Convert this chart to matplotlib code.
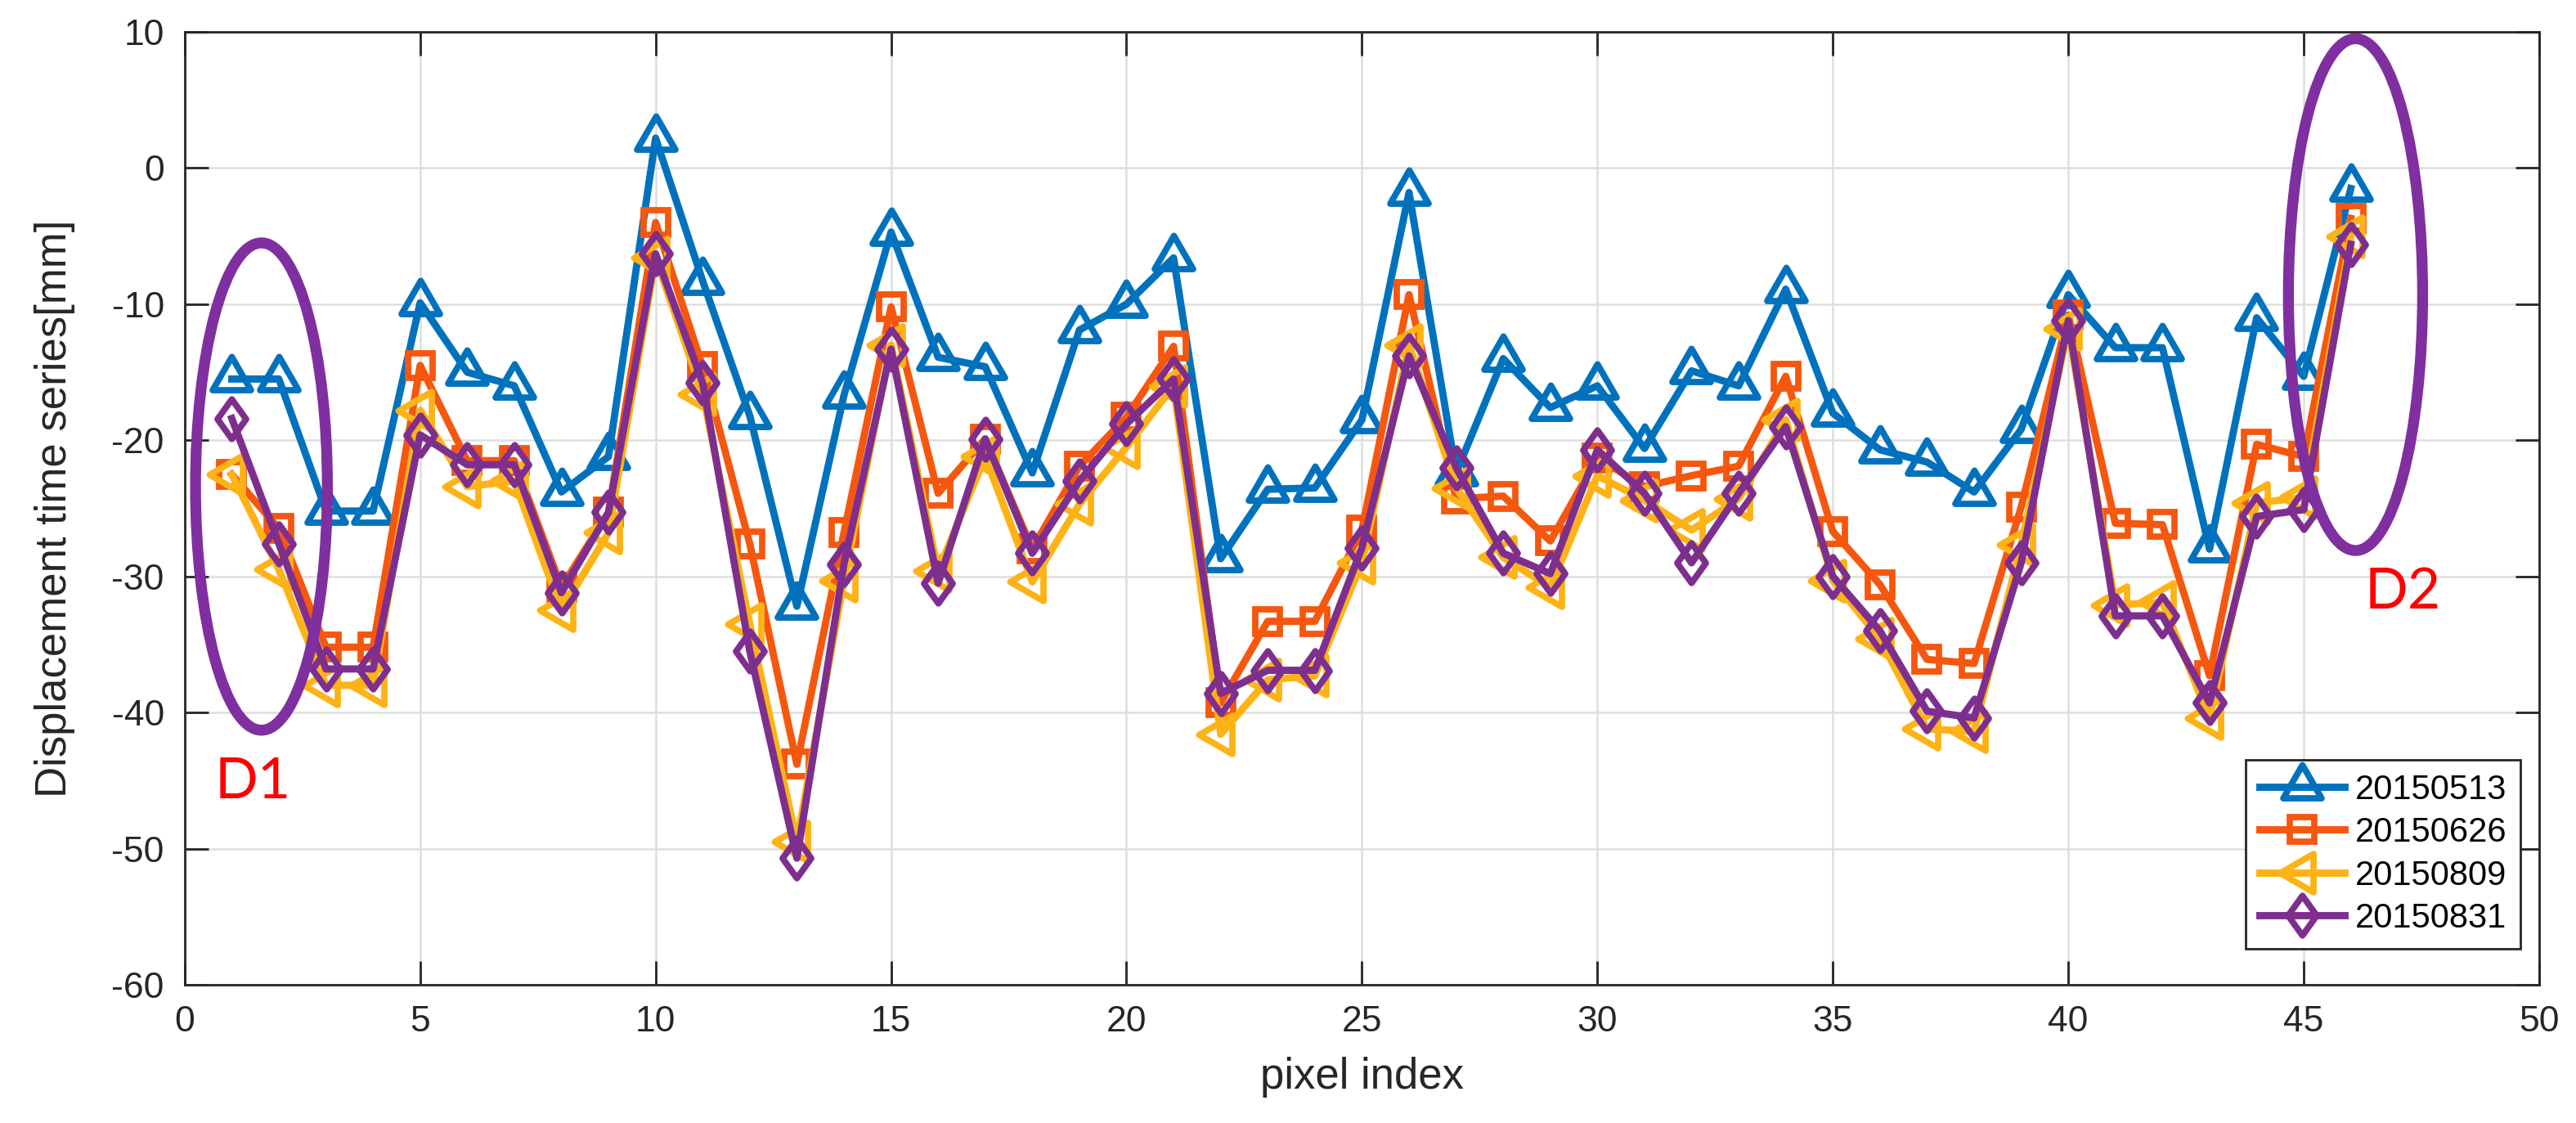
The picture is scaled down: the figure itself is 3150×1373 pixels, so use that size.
import numpy as np
import matplotlib
matplotlib.use('Agg')
import matplotlib.pyplot as plt
from matplotlib.path import Path
from matplotlib.patches import Ellipse

# pixel index 1..46
pixel = np.arange(1, 47)

d20150513 = [-15.5, -15.5, -25.2, -25.2, -9.9, -15.0, -16.0, -23.8, -21.2, 2.2,
             -8.3, -18.2, -32.2, -16.7, -4.7, -13.9, -14.6, -22.4, -11.9, -10.0,
             -6.6, -28.7, -23.6, -23.5, -18.5, -1.8, -22.4, -14.0, -17.6, -16.0,
             -20.6, -14.9, -16.0, -8.9, -18.0, -20.7, -21.6, -23.8, -19.2, -9.3,
             -13.2, -13.2, -28.0, -11.0, -15.3, -1.5]
d20150626 = [-22.5, -26.5, -35.2, -35.2, -14.5, -21.5, -21.5, -30.8, -25.3, -4.0,
             -14.6, -27.6, -43.8, -26.8, -10.2, -23.9, -19.9, -28.0, -21.9, -18.3,
             -13.1, -39.3, -33.3, -33.3, -26.6, -9.3, -24.3, -24.1, -27.4, -21.3,
             -23.4, -22.6, -21.9, -15.3, -26.7, -30.6, -36.1, -36.4, -24.9, -10.8,
             -26.1, -26.2, -37.3, -20.3, -21.2, -3.7]
d20150809 = [-22.5, -29.5, -38.0, -38.0, -17.8, -23.4, -23.0, -32.5, -26.8, -6.6,
             -16.6, -33.5, -49.5, -30.3, -13.0, -29.6, -21.2, -30.4, -24.7, -20.5,
             -16.0, -41.6, -37.6, -37.3, -29.0, -13.0, -23.5, -28.6, -30.8, -22.6,
             -24.4, -26.6, -24.3, -18.5, -30.3, -34.6, -41.2, -41.4, -27.7, -11.8,
             -32.1, -31.9, -40.4, -24.6, -24.2, -5.0]
d20150831 = [-18.4, -27.6, -36.8, -36.8, -19.6, -21.8, -21.8, -31.2, -25.3, -6.3,
             -15.8, -35.5, -50.7, -29.1, -13.3, -30.5, -19.9, -28.3, -23.0, -18.8,
             -15.5, -38.6, -36.9, -36.9, -27.9, -13.8, -22.0, -28.3, -29.8, -20.7,
             -23.9, -29.0, -23.9, -19.0, -30.0, -34.0, -39.9, -40.4, -29.0, -11.2,
             -32.9, -32.9, -39.3, -25.6, -25.1, -5.6]
labels = ['20150513', '20150626', '20150809', '20150831']

# matlab-ish markers, triangles centred on the centroid
codes = [Path.MOVETO, Path.LINETO, Path.LINETO, Path.CLOSEPOLY]
tri_up = Path([(0, 2/3.), (-0.577, -1/3.), (0.577, -1/3.), (0, 0)], codes)
tri_left = Path([(-2/3., 0), (1/3., 0.577), (1/3., -0.577), (0, 0)], codes)
diamond = Path([(0, 0.5), (-0.36, 0), (0, -0.5), (0.36, 0), (0, 0)],
               [Path.MOVETO, Path.LINETO, Path.LINETO, Path.LINETO, Path.CLOSEPOLY])

series = [
    (d20150513, '#0072BD', tri_up, 19.5),
    (d20150626, '#F5570F', 's', 10.5),
    (d20150809, '#FDB316', tri_left, 19.5),
    (d20150831, '#7E2F8E', diamond, 17.5),
]

plt.rcParams['font.family'] = ['Liberation Sans', 'DejaVu Sans']
plt.rcParams['axes.unicode_minus'] = False
fig = plt.figure(figsize=(15.75, 6.865), dpi=200)
ax = fig.add_axes([0.0717, 0.1231, 0.914, 0.8485])

for (vals, col, mk, ms), lab in zip(series, labels):
    ax.plot(pixel, vals, color=col, lw=3.2, marker=mk, ms=ms, mfc='none',
            mec=col, mew=2.8, label=lab)

ax.set_xlim(0, 50)
ax.set_ylim(-60, 10)
ax.set_xticks(np.arange(0, 51, 5))
ax.set_yticks(np.arange(-60, 11, 10))
ax.grid(True, color='#DEDEDE', lw=0.9)
ax.set_axisbelow(True)
for s in ax.spines.values():
    s.set_color('#262626')
    s.set_linewidth(1.0)
ax.tick_params(direction='in', length=10.5, width=1.0, colors='#262626',
               labelsize=16, top=True, right=True, pad=9)
ax.set_xlabel('pixel index', fontsize=19, color='#262626', labelpad=8)
ax.set_ylabel('Displacement time series[mm]', fontsize=19, color='#262626', labelpad=16)

# highlighted regions
for cx, cy, w, h in [(1.63, -23.4, 2.8, 35.8), (46.1, -9.3, 2.85, 37.6)]:
    ax.add_patch(Ellipse((cx, cy), w, h, fill=False, ec='#7F2FA0', lw=4.8, clip_on=False, zorder=5))
ax.text(1.44, -45.1, 'D1', color='red', fontsize=25, family=['Lato', 'DejaVu Sans'],
        ha='center', va='center')
ax.text(47.1, -31.2, 'D2', color='red', fontsize=25, family=['Lato', 'DejaVu Sans'],
        ha='center', va='center')

leg = ax.legend(loc='lower right', bbox_to_anchor=(0.992, 0.038), borderaxespad=0,
                fontsize=15, fancybox=False, framealpha=1, edgecolor='#262626',
                handlelength=2.5, labelspacing=0.3, borderpad=0.4, handletextpad=0.3)
leg.get_frame().set_linewidth(1.0)

plt.savefig('out.png', dpi=200)
